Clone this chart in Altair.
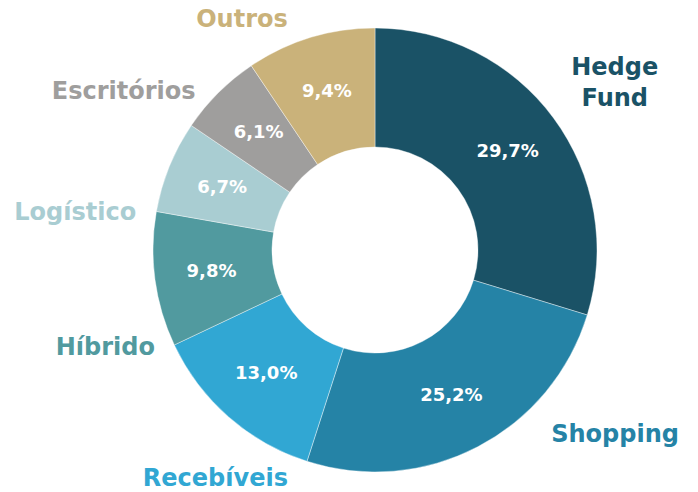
import math
import altair as alt
import pandas as pd

categories = ["Hedge Fund", "Shopping", "Recebíveis", "Híbrido", "Logístico", "Escritórios", "Outros"]
values = [29.7, 25.2, 13.0, 9.8, 6.7, 6.1, 9.4]
colors = ["#1a5266", "#2583a6", "#31a7d3", "#519a9f", "#a9cdd2", "#9f9e9d", "#cab27a"]

# layout of outer category labels (angle clockwise from top in degrees, distance from centre in px)
label_angle_deg = [52.8, 127.6, 214.9, 250.0, 277.0, 302.2, 330.0]
label_radius = [301, 303, 279, 287, 302, 297, 266]

df = pd.DataFrame({
    "category": categories,
    "value": values,
    "order": list(range(len(categories))),
    "pct": [f"{v:.1f}%".replace(".", ",") for v in values],
    "label": ["Hedge\nFund" if c == "Hedge Fund" else c for c in categories],
    "lab_theta": [math.radians(a) for a in label_angle_deg],
    "lab_r": label_radius,
})

color_scale = alt.Scale(domain=categories, range=colors)
FONT = "DejaVu Sans"

base = alt.Chart(df)

arcs = base.mark_arc(innerRadius=103, outerRadius=222, stroke="white", strokeWidth=0.4).encode(
    theta=alt.Theta("value:Q", stack=True),
    color=alt.Color("category:N", scale=color_scale, legend=None),
    order=alt.Order("order:Q"),
)

pct_text = base.mark_text(radius=165, font=FONT, fontWeight="bold", fontSize=18,
                          color="white", align="center", baseline="middle").encode(
    theta=alt.Theta("value:Q", stack=True),
    text=alt.Text("pct:N"),
    order=alt.Order("order:Q"),
)

cat_text = base.mark_text(font=FONT, fontWeight="bold", fontSize=24, lineHeight=31,
                          lineBreak="\n", align="center", baseline="middle").encode(
    theta=alt.Theta("lab_theta:Q", scale=None, stack=False),
    radius=alt.Radius("lab_r:Q", scale=None),
    text=alt.Text("label:N"),
    color=alt.Color("category:N", scale=color_scale, legend=None),
)

chart = alt.layer(arcs, pct_text, cat_text).properties(
    width=646, height=484,
    autosize=alt.AutoSizeParams(type="none"),
    padding={"left": 52, "top": 8, "right": 0, "bottom": 0},
).configure_view(stroke=None).configure(background="white")

chart.save("out.html", embed_options={"renderer": "svg", "actions": False})
